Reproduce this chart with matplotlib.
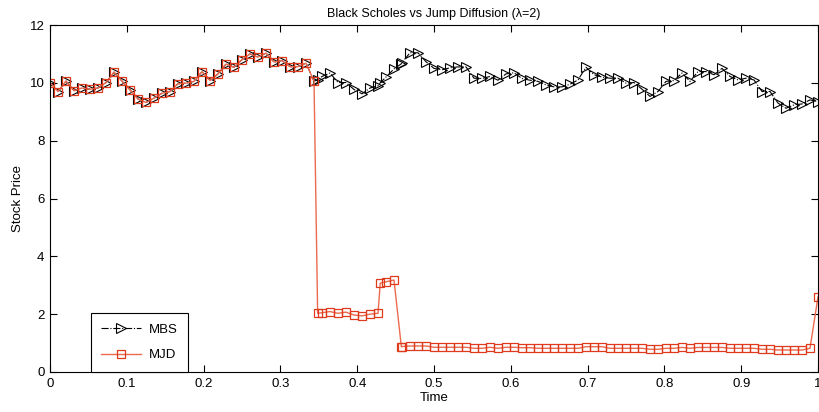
import numpy as np
import matplotlib
matplotlib.use("Agg")
import matplotlib.pyplot as plt

plt.rcParams['font.family'] = ['Liberation Sans', 'DejaVu Sans']

# Regular simulation grid plus the jump instants of the jump-diffusion path
grid_times = np.linspace(0.0, 1.0, 97)
jump_times = [0.3485, 0.430, 0.4575]
time = np.sort(np.concatenate([grid_times, jump_times]))

# Merton Black-Scholes path
mbs = [10.01, 9.70, 10.06, 9.73, 9.82, 9.78, 9.82, 10.01, 10.37, 10.06,
       9.76, 9.44, 9.32, 9.47, 9.64, 9.70, 9.97, 9.99, 10.05, 10.39,
       10.08, 10.31, 10.65, 10.54, 10.80, 11.00, 10.89, 11.03, 10.72, 10.77,
       10.56, 10.56, 10.68, 10.06,
       10.10,
       10.22, 10.34, 10.01, 10.01, 9.77, 9.62, 9.82, 9.90,
       10.00,
       10.20, 10.48,
       10.66,
       10.70, 11.04, 11.04, 10.73, 10.50, 10.45, 10.52, 10.55, 10.55, 10.16,
       10.15, 10.22, 10.09, 10.31, 10.35, 10.15, 10.09, 10.05, 9.93, 9.86,
       9.86, 9.95, 10.10, 10.54, 10.28, 10.20, 10.16, 10.16, 9.99, 10.01,
       9.78, 9.53, 9.70, 10.05, 10.08, 10.34, 10.05, 10.39, 10.39, 10.28,
       10.50, 10.22, 10.10, 10.16, 10.10, 9.70, 9.70, 9.30, 9.12, 9.24,
       9.27, 9.41, 9.35]

# Merton jump-diffusion path (same Brownian driver, jumps at jump_times)
mjd = [10.01, 9.70, 10.06, 9.73, 9.82, 9.78, 9.82, 10.01, 10.37, 10.06,
       9.76, 9.44, 9.32, 9.47, 9.64, 9.70, 9.97, 9.99, 10.05, 10.39,
       10.08, 10.31, 10.65, 10.54, 10.80, 11.00, 10.89, 11.03, 10.72, 10.77,
       10.56, 10.56, 10.68, 10.06,
       2.03,
       2.05, 2.09, 2.03, 2.07, 1.97, 1.94, 2.00, 2.03,
       3.07,
       3.12, 3.18,
       0.87,
       0.88, 0.90, 0.90, 0.90, 0.855, 0.855, 0.855, 0.855, 0.855, 0.82,
       0.82, 0.855, 0.82, 0.855, 0.855, 0.84, 0.84, 0.82, 0.82, 0.82,
       0.82, 0.82, 0.82, 0.875, 0.875, 0.875, 0.82, 0.82, 0.82, 0.82,
       0.82, 0.785, 0.785, 0.82, 0.82, 0.85, 0.82, 0.85, 0.85, 0.85,
       0.85, 0.82, 0.82, 0.82, 0.82, 0.785, 0.785, 0.76, 0.76, 0.76,
       0.76, 0.82, 2.60]

x_ticks = [0, 0.1, 0.2, 0.3, 0.4, 0.5, 0.6, 0.7, 0.8, 0.9, 1]
x_tick_labels = ['0', '0.1', '0.2', '0.3', '0.4', '0.5', '0.6', '0.7', '0.8', '0.9', '1']
y_ticks = [0, 2, 4, 6, 8, 10, 12]

red_line = '#ec6a4e'
red_mark = '#e03a1c'

fig = plt.figure(figsize=(8.19, 4.12), dpi=100)
fig.patch.set_facecolor('white')
ax = fig.add_axes([50 / 819, 40 / 412, 768 / 819, 347 / 412])

ax.plot(time, mbs, linestyle='-.', color='black', linewidth=0.8,
        marker='>', markersize=6.5, markerfacecolor='none',
        markeredgecolor='black', markeredgewidth=0.8, label='MBS')
ax.plot(time, mjd, linestyle='-', color=red_line, linewidth=1.0,
        marker='s', markersize=6, markerfacecolor='none',
        markeredgecolor=red_mark, markeredgewidth=0.9, label='MJD')

ax.set_xlim(0, 1)
ax.set_ylim(0, 12)
ax.set_xticks(x_ticks)
ax.set_xticklabels(x_tick_labels)
ax.set_yticks(y_ticks)
ax.tick_params(direction='in', length=5, width=0.8, top=True, right=True,
               labelsize=9.5, pad=4)
for sp in ax.spines.values():
    sp.set_linewidth(0.8)
    sp.set_color('black')

ax.set_title('Black Scholes vs Jump Diffusion (\u03bb=2)', fontsize=9, pad=6)
ax.set_xlabel('Time', fontsize=9.5, labelpad=2)
ax.set_ylabel('Stock Price', fontsize=9.5, labelpad=4)

leg = ax.legend(loc='lower left', bbox_to_anchor=(0.053, 0.0), borderaxespad=0,
                fancybox=False, framealpha=1, edgecolor='black',
                fontsize=9.5, handlelength=3.0, borderpad=0.8,
                labelspacing=1.0, handletextpad=0.6)
leg.get_frame().set_linewidth(0.8)

fig.savefig('out.png', dpi=100, facecolor='white')
